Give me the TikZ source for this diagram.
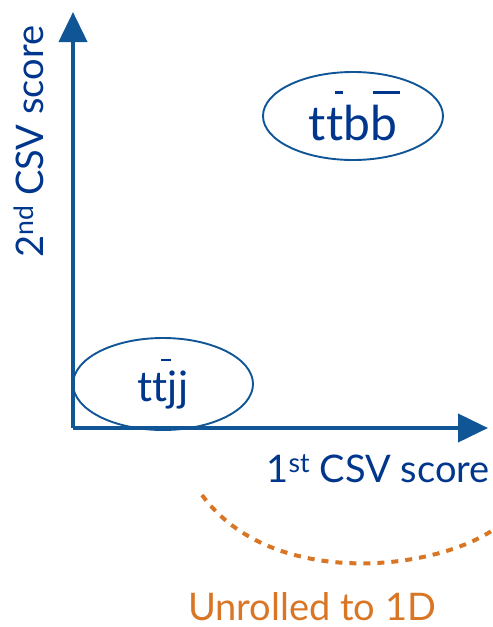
\documentclass[tikz,border=0pt]{standalone}
\usepackage{fontspec}
\setmainfont{Lato}
\usetikzlibrary{shapes.geometric,arrows.meta}
\definecolor{axisblue}{RGB}{16,86,150}
\definecolor{textblue}{RGB}{0,54,140}
\definecolor{rollorange}{RGB}{217,118,38}
% letter with a bar above it (anti-quark notation): #1 bar offset, #2 bar length, #3 letter
\newcommand\antiq[3]{\leavevmode\rlap{\hspace*{#1}\raisebox{0.97em}{\rule{#2}{0.045em}}}#3}
\begin{document}
\begin{tikzpicture}[x=1pt,y=-1pt,
  axis/.style={line width=4pt,draw=axisblue,-{Triangle[width=28pt,length=30pt]}},
  blob/.style={ellipse,draw=axisblue,line width=1.9pt,inner sep=0pt,text=textblue},
  axlabel/.style={text=textblue,font=\fontsize{38}{44}\selectfont,inner sep=0pt}]
\useasboundingbox (0,0) rectangle (493,627);
\coordinate (O) at (73,428);
\coordinate (ytip) at (73,12);
\coordinate (xtip) at (488,428);
\draw[axis] (O) -- (ytip);
\draw[axis] (O) -- (xtip);
\node[blob,minimum width=180pt,minimum height=88pt,font=\fontsize{48}{52}\selectfont] (ttbb) at (353,116) {t\antiq{0.18em}{0.17em}{t}b\antiq{0.05em}{0.57em}{b}};
\node[blob,minimum width=180pt,minimum height=92pt,font=\fontsize{42}{46}\selectfont] (ttjj) at (163,384) {t\antiq{0.2em}{0.24em}{t}jj};
\node[axlabel,anchor=base east] (xlab) at (490,482) {1\textsuperscript{st} CSV score};
\node[axlabel,anchor=base west,rotate=90] (ylab) at (43,258) {2\textsuperscript{nd} CSV score};
\coordinate (arcA) at (202,495);
\coordinate (arcB) at (493,530);
\draw[rollorange,line width=4pt,dash pattern=on 7pt off 7pt] (arcA) .. controls (270,588) and (430,572) .. (arcB);
\node[text=rollorange,font=\fontsize{38}{44}\selectfont,anchor=base west,inner sep=0pt] (unroll) at (188,620) {Unrolled to 1D};
\end{tikzpicture}
\end{document}
